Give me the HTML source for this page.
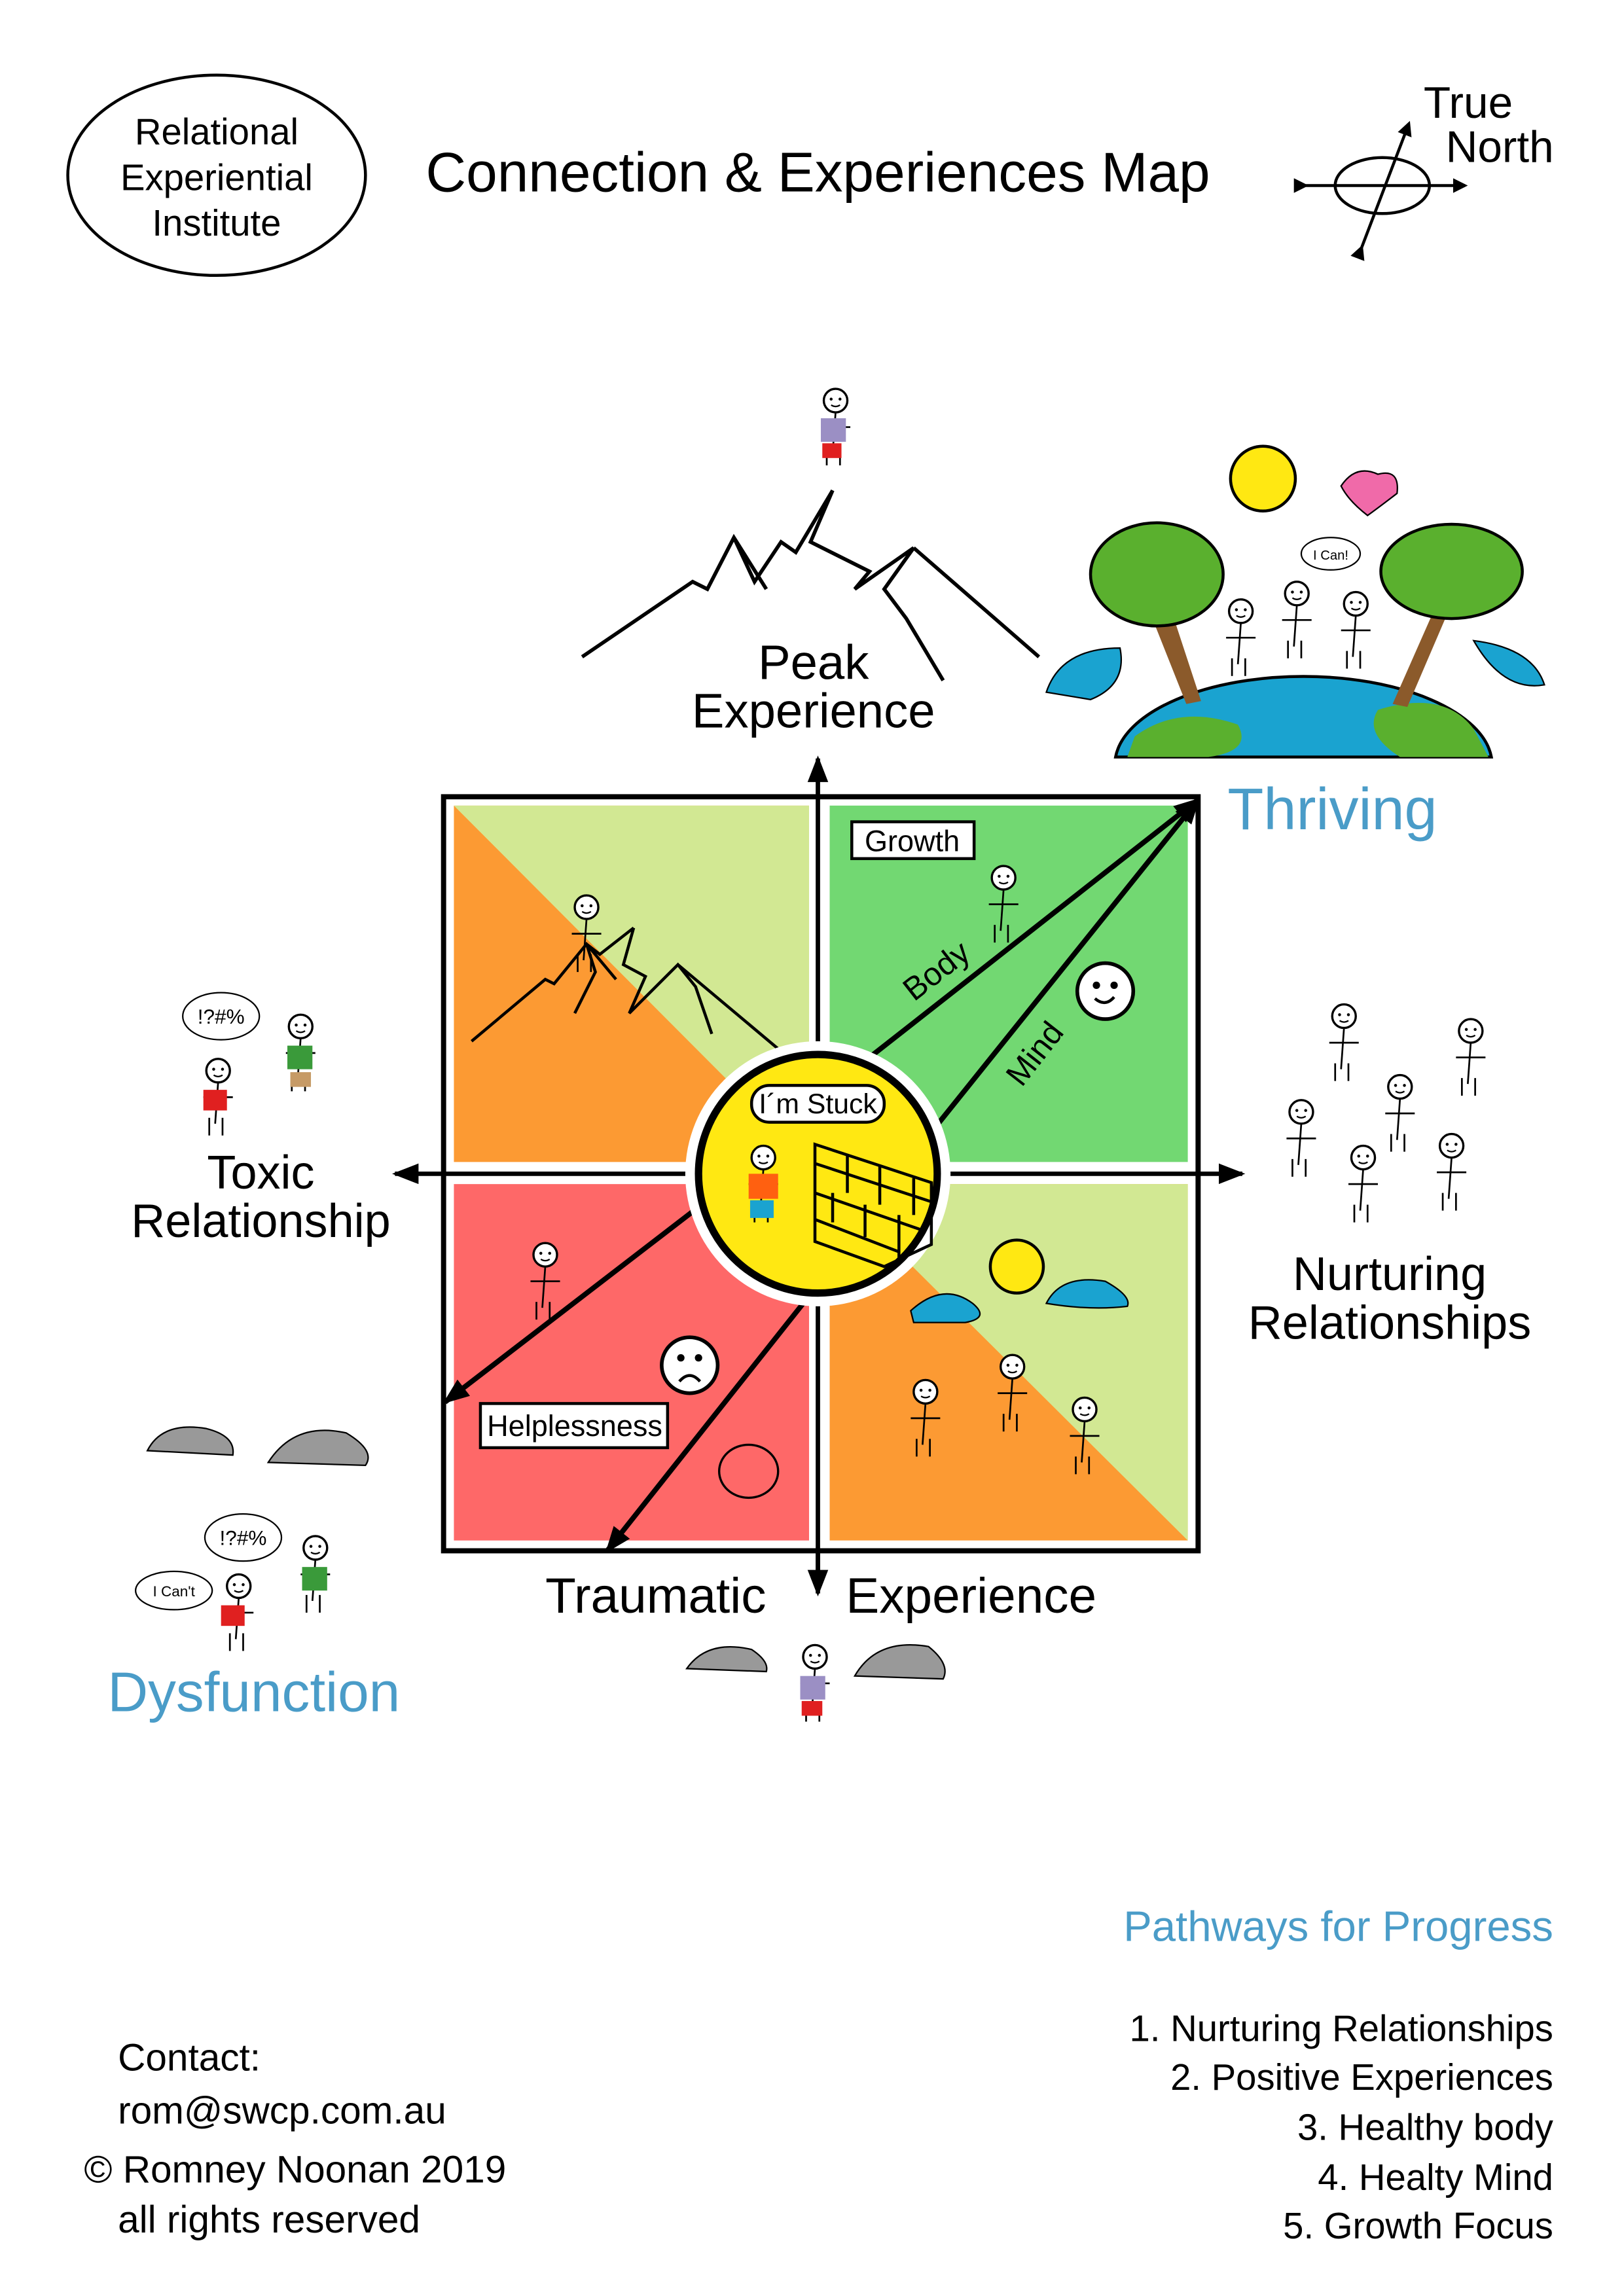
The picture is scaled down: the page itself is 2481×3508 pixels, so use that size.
<!DOCTYPE html>
<html><head><meta charset="utf-8">
<style>
html,body{margin:0;padding:0;background:#fff;}
svg{display:block;}
text{font-family:"Liberation Sans",sans-serif;}
</style></head>
<body>
<svg width="2481" height="3508" viewBox="0 0 1102 1559" preserveAspectRatio="none" xmlns="http://www.w3.org/2000/svg">
<defs>
<marker id="ah" markerWidth="10" markerHeight="10" refX="8" refY="5" orient="auto" markerUnits="userSpaceOnUse">
<path d="M0,0 L10,5 L0,10 z" fill="#000"/></marker>
<marker id="ah2" markerWidth="18" markerHeight="14" refX="16" refY="7" orient="auto" markerUnits="userSpaceOnUse">
<path d="M0,0 L18,7 L0,14 z" fill="#000"/></marker>
<g id="kid">
<circle cx="0" cy="0" r="8" fill="#fff" stroke="#000" stroke-width="1.5"/>
<circle cx="-3" cy="-1" r="1" fill="#000"/><circle cx="3" cy="-1" r="1" fill="#000"/>
<path d="M-3,3 Q0,5 3,3" stroke="#000" fill="none" stroke-width="1"/>
<line x1="0" y1="8" x2="-2" y2="36" stroke="#000" stroke-width="1.2"/>
<line x1="-6" y1="32" x2="-6" y2="44" stroke="#000" stroke-width="1.2"/>
<line x1="3" y1="32" x2="3" y2="44" stroke="#000" stroke-width="1.2"/>
<line x1="-10" y1="18" x2="10" y2="18" stroke="#000" stroke-width="1.2"/>
</g>
</defs>
<rect width="1102" height="1559" fill="#fff"/>

<ellipse cx="147" cy="119" rx="101" ry="68" fill="none" stroke="#000" stroke-width="2"/>
<text x="147" y="98" font-size="25" text-anchor="middle">Relational</text>
<text x="147" y="129" font-size="25" text-anchor="middle">Experiential</text>
<text x="147" y="160" font-size="25" text-anchor="middle">Institute</text>
<text x="555" y="130" font-size="38" text-anchor="middle">Connection &amp; Experiences Map</text>
<text x="966" y="80" font-size="30">True</text>
<text x="981" y="110" font-size="30">North</text>
<ellipse cx="938" cy="126" rx="32" ry="19" fill="none" stroke="#000" stroke-width="2"/>
<line x1="886" y1="126" x2="994" y2="126" stroke="#000" stroke-width="2" marker-end="url(#ah)" marker-start="url(#ah)"/>
<line x1="924" y1="168" x2="956" y2="84" stroke="#000" stroke-width="2" marker-end="url(#ah)" marker-start="url(#ah)"/>

<path d="M395,446 L470,395 L480,400 L498,365 L520,400 M498,365 L512,395 L530,368 L540,375 L565,333 L550,368 L590,388 L580,400 L620,372 L600,400 L615,420 L640,462 M620,372 L705,446" fill="none" stroke="#000" stroke-width="2.5"/>
<use href="#kid" x="567" y="272"/>
<rect x="557" y="284" width="17" height="16" fill="#9b8fc4"/><rect x="558" y="301" width="13" height="10" fill="#e02020"/>
<text x="552" y="461" font-size="33" text-anchor="middle">Peak</text>
<text x="552" y="494" font-size="33" text-anchor="middle">Experience</text>

<path d="M757,514 A128,60 0 0 1 1012,514 z" fill="#1aa3d0" stroke="#000" stroke-width="2"/>
<path d="M770,500 Q800,478 840,492 Q850,510 820,514 L765,514z" fill="#5ab02e"/>
<path d="M935,482 Q980,468 1000,495 L1010,514 L950,514 Q925,498 935,482z" fill="#5ab02e"/>
<path d="M780,415 L805,478 L815,476 L795,415z" fill="#8b5a2b"/>
<ellipse cx="785" cy="390" rx="45" ry="35" fill="#5ab02e" stroke="#000" stroke-width="2"/>
<path d="M975,410 L945,478 L955,480 L985,410z" fill="#8b5a2b"/>
<ellipse cx="985" cy="388" rx="48" ry="32" fill="#5ab02e" stroke="#000" stroke-width="2"/>
<path d="M710,470 Q720,440 760,440 Q765,465 740,475z" fill="#1aa3d0" stroke="#000"/>
<path d="M1000,435 Q1040,440 1048,465 Q1020,470 1000,435z" fill="#1aa3d0" stroke="#000"/>
<circle cx="857" cy="325" r="22" fill="#ffe812" stroke="#000" stroke-width="2"/>
<path d="M910,330 Q920,315 935,322 Q950,318 948,335 Q935,345 928,350 Q915,340 910,330z" fill="#f06aa9" stroke="#000"/>
<use href="#kid" x="842" y="415"/><use href="#kid" x="880" y="403"/><use href="#kid" x="920" y="410"/>
<ellipse cx="903" cy="376" rx="20" ry="11" fill="#fff" stroke="#000"/><text x="903" y="380" font-size="9" text-anchor="middle">I Can!</text>
<text x="833" y="563" font-size="40" fill="#4a9cc8">Thriving</text>

<rect x="301" y="541" width="512" height="512" fill="#fff" stroke="#000" stroke-width="3.5"/>
<polygon points="308,547 549,547 549,789 308,789" fill="#fc9a33"/>
<polygon points="308,547 549,547 549,789" fill="#d2e893"/>
<rect x="563" y="547" width="243" height="242" fill="#72d872"/>
<rect x="308" y="804" width="241" height="242" fill="#fe6868"/>
<polygon points="563,804 806,804 806,1046 563,1046" fill="#fc9a33"/>
<polygon points="563,804 806,804 806,1046" fill="#d2e893"/>
<line x1="555" y1="1080" x2="555" y2="515" stroke="#000" stroke-width="3" marker-end="url(#ah2)"/>
<line x1="555" y1="1053" x2="555" y2="1082" stroke="#000" stroke-width="3" marker-end="url(#ah2)"/>
<line x1="300" y1="797" x2="843" y2="797" stroke="#000" stroke-width="3" marker-end="url(#ah2)"/>
<line x1="300" y1="797" x2="268" y2="797" stroke="#000" stroke-width="3" marker-end="url(#ah2)"/>
<path d="M320,707 L370,665 L376,668 L398,641 L418,665 M398,641 L404,660 L390,688 M430,630 L423,655 L438,663 L427,688 L460,655 L472,670 L483,702 M460,655 L535,718 M398,641 L407,648 L430,630" fill="none" stroke="#000" stroke-width="2"/>
<use href="#kid" x="398" y="616"/>
<rect x="578" y="558" width="83" height="25" fill="#fff" stroke="#000" stroke-width="2"/>
<text x="619" y="578" font-size="20" text-anchor="middle">Growth</text>
<use href="#kid" x="681" y="596"/>
<circle cx="750" cy="673" r="19" fill="#fff" stroke="#000" stroke-width="2.5"/>
<circle cx="744" cy="669" r="2.5"/><circle cx="756" cy="669" r="2.5"/><path d="M743,678 Q750,684 756,677" fill="none" stroke="#000" stroke-width="2"/>
<line x1="590" y1="718" x2="813" y2="543" stroke="#000" stroke-width="3.5" marker-end="url(#ah2)"/>
<line x1="635" y1="765" x2="813" y2="543" stroke="#000" stroke-width="3.5" marker-end="url(#ah2)"/>
<text x="640" y="665" font-size="22" transform="rotate(-38 640 665)" text-anchor="middle">Body</text>
<text x="708" y="720" font-size="22" transform="rotate(-52 708 720)" text-anchor="middle">Mind</text>
<line x1="480" y1="815" x2="302" y2="952" stroke="#000" stroke-width="3.5" marker-end="url(#ah2)"/>
<line x1="545" y1="885" x2="412" y2="1053" stroke="#000" stroke-width="3.5" marker-end="url(#ah2)"/>
<use href="#kid" x="370" y="852"/>
<circle cx="468" cy="927" r="19" fill="#fff" stroke="#000" stroke-width="2.5"/>
<circle cx="462" cy="922" r="2.5"/><circle cx="474" cy="922" r="2.5"/><path d="M461,938 Q468,930 475,938" fill="none" stroke="#000" stroke-width="2"/>
<rect x="326" y="953" width="127" height="30" fill="#fff" stroke="#000" stroke-width="2"/>
<text x="390" y="975" font-size="20" text-anchor="middle">Helplessness</text>
<ellipse cx="508" cy="999" rx="20" ry="18" fill="none" stroke="#000" stroke-width="1.5"/>
<circle cx="690" cy="860" r="18" fill="#ffe812" stroke="#000" stroke-width="2"/>
<path d="M618,890 Q640,870 660,885 Q672,895 655,898 L620,898z" fill="#1aa3d0" stroke="#000"/>
<path d="M710,885 Q720,865 750,870 Q768,880 765,887 Q740,890 710,885z" fill="#1aa3d0" stroke="#000"/>
<use href="#kid" x="628" y="945"/><use href="#kid" x="687" y="928"/><use href="#kid" x="736" y="957"/>
<circle cx="555" cy="797" r="90" fill="#fff"/>
<circle cx="555" cy="797" r="81" fill="#ffe812" stroke="#000" stroke-width="5"/>
<rect x="510" y="737" width="90" height="25" rx="12" fill="#fff" stroke="#000" stroke-width="2"/>
<text x="555" y="756" font-size="19" text-anchor="middle">I´m Stuck</text>
<use href="#kid" x="518" y="786"/>
<rect x="508" y="797" width="20" height="17" fill="#ff6010"/><rect x="509" y="815" width="16" height="12" fill="#1aa3d0"/>
<path d="M553,777 L632,803 L632,845 L600,860 L553,843 z M553,790 L632,816 M553,810 L625,835 M553,828 L610,850 M575,785 L575,810 M597,792 L597,818 M620,800 L620,825 M565,810 L565,830 M587,818 L587,840 M610,825 L610,855" fill="none" stroke="#000" stroke-width="2"/>

<text x="177" y="807" font-size="32" text-anchor="middle">Toxic</text>
<text x="177" y="840" font-size="32" text-anchor="middle">Relationship</text>
<text x="943" y="876" font-size="32" text-anchor="middle">Nurturing</text>
<text x="943" y="909" font-size="32" text-anchor="middle">Relationships</text>
<text x="445" y="1095" font-size="34" text-anchor="middle">Traumatic</text>
<text x="659" y="1095" font-size="34" text-anchor="middle">Experience</text>
<text x="73" y="1162" font-size="38" fill="#4a9cc8">Dysfunction</text>

<ellipse cx="150" cy="690" rx="26" ry="16" fill="#fff" stroke="#000"/><text x="150" y="695" font-size="14" text-anchor="middle">!?#%</text>
<use href="#kid" x="148" y="727"/><rect x="138" y="740" width="16" height="14" fill="#e02020"/>
<use href="#kid" x="204" y="697"/><rect x="195" y="710" width="17" height="16" fill="#3a9a3a"/><rect x="197" y="728" width="14" height="10" fill="#c69a66"/>
<use href="#kid" x="912" y="690"/><use href="#kid" x="998" y="700"/><use href="#kid" x="950" y="738"/>
<use href="#kid" x="883" y="755"/><use href="#kid" x="985" y="778"/><use href="#kid" x="925" y="786"/>
<path d="M100,985 Q110,965 140,970 Q160,975 158,988z" fill="#999" stroke="#000"/>
<path d="M182,993 Q200,965 235,973 Q255,985 248,995z" fill="#999" stroke="#000"/>
<ellipse cx="165" cy="1044" rx="26" ry="16" fill="#fff" stroke="#000"/><text x="165" y="1049" font-size="14" text-anchor="middle">!?#%</text>
<ellipse cx="118" cy="1080" rx="26" ry="13" fill="#fff" stroke="#000"/><text x="118" y="1084" font-size="10" text-anchor="middle">I Can't</text>
<use href="#kid" x="162" y="1077"/><rect x="150" y="1090" width="16" height="14" fill="#e02020"/>
<use href="#kid" x="214" y="1051"/><rect x="205" y="1064" width="17" height="16" fill="#3a9a3a"/>
<path d="M466,1133 Q480,1113 510,1120 Q522,1128 520,1135z" fill="#999" stroke="#000"/>
<path d="M580,1138 Q595,1112 630,1118 Q645,1130 640,1140z" fill="#999" stroke="#000"/>
<use href="#kid" x="553" y="1125"/><rect x="543" y="1138" width="17" height="16" fill="#9b8fc4"/><rect x="544" y="1155" width="14" height="10" fill="#e02020"/>

<text x="1054" y="1318" font-size="29" fill="#4a9cc8" text-anchor="end">Pathways for Progress</text>
<text x="1054" y="1386" font-size="25" text-anchor="end">1.  Nurturing Relationships</text>
<text x="1054" y="1419" font-size="25" text-anchor="end">2.  Positive Experiences</text>
<text x="1054" y="1453" font-size="25" text-anchor="end">3.  Healthy body</text>
<text x="1054" y="1487" font-size="25" text-anchor="end">4.  Healty Mind</text>
<text x="1054" y="1520" font-size="25" text-anchor="end">5.  Growth Focus</text>
<text x="80" y="1406" font-size="26">Contact:</text>
<text x="80" y="1442" font-size="26">rom@swcp.com.au</text>
<text x="57" y="1482" font-size="26">© Romney Noonan 2019</text>
<text x="80" y="1516" font-size="26">all rights reserved</text>
</svg>
</body></html>
